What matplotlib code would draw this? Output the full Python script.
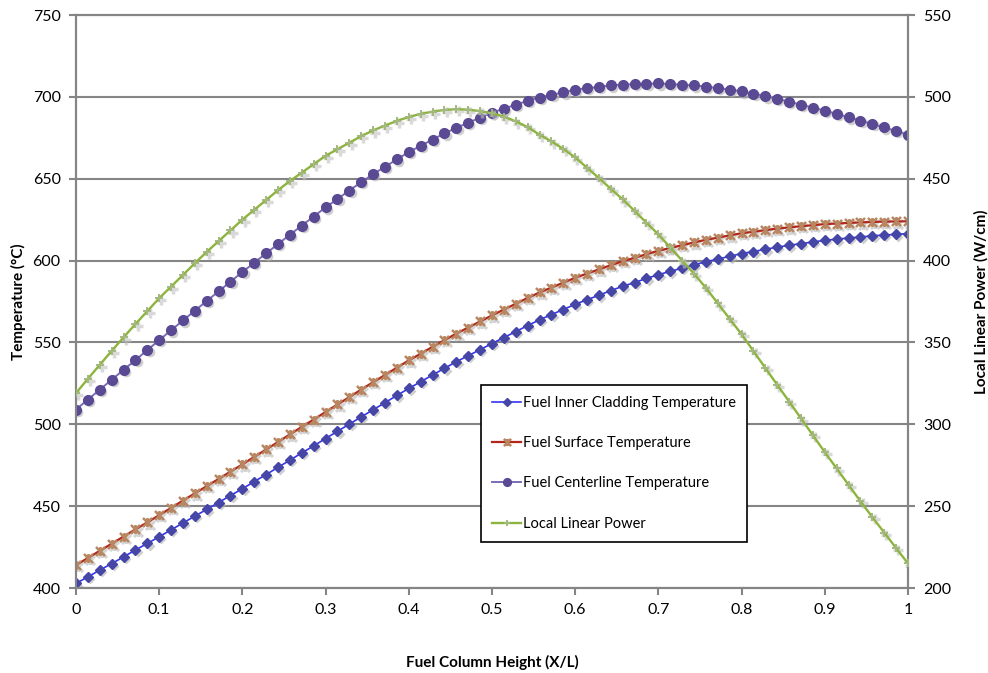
import matplotlib
matplotlib.use("Agg")
import matplotlib.pyplot as plt
import matplotlib.transforms as mtransforms
from matplotlib.path import Path

plt.rcParams['font.family'] = ['Lato', 'DejaVu Sans']

# x positions (X/L), 71 stations
height = [i / 70 for i in range(71)]

# Fuel inner cladding temperature (C)
clad_temp = [402.8, 406.8, 410.9, 414.9, 419.0, 423.2, 427.2, 431.3, 435.5, 439.7,
             443.9, 448.0, 452.2, 456.5, 460.6, 465.0, 469.3, 473.7, 478.1, 482.5,
             486.8, 491.3, 495.7, 500.1, 504.5, 508.9, 513.2, 517.6, 521.9, 526.0,
             530.1, 534.2, 538.2, 541.9, 545.6, 549.3, 553.0, 556.6, 560.3, 563.8,
             567.0, 570.1, 573.3, 576.1, 578.8, 581.7, 584.3, 586.6, 589.1, 591.4,
             593.4, 595.4, 597.4, 599.3, 600.9, 602.6, 604.3, 605.5, 606.9, 608.2,
             609.3, 610.4, 611.3, 612.4, 613.0, 613.8, 614.4, 615.1, 615.6, 616.0,
             616.5]

# Fuel surface temperature (C)
surf_temp = [414.0, 418.3, 422.7, 427.0, 431.4, 435.8, 440.1, 444.5, 448.9, 453.4,
             457.8, 462.2, 466.6, 471.1, 475.5, 480.1, 484.6, 489.2, 493.8, 498.4,
             502.9, 507.5, 512.1, 516.6, 521.2, 525.7, 530.1, 534.6, 539.0, 543.1,
             547.3, 551.4, 555.4, 559.1, 562.8, 566.5, 570.1, 573.6, 577.2, 580.5,
             583.5, 586.5, 589.5, 592.1, 594.6, 597.2, 599.6, 601.7, 603.9, 606.0,
             607.7, 609.4, 611.1, 612.7, 614.0, 615.4, 616.7, 617.6, 618.6, 619.5,
             620.3, 621.0, 621.6, 622.3, 622.6, 623.0, 623.3, 623.6, 623.8, 623.9,
             624.0]

# Fuel centerline temperature (C)
center_temp = [509.0, 515.1, 521.1, 527.2, 533.2, 539.2, 545.3, 551.4, 557.4, 563.4,
               569.4, 575.3, 581.2, 587.1, 593.0, 598.7, 604.4, 610.1, 615.8, 621.4,
               626.9, 632.5, 637.6, 642.8, 647.9, 652.8, 657.3, 661.8, 666.3, 670.1,
               673.9, 677.7, 681.1, 684.2, 687.3, 690.4, 692.8, 695.2, 697.6, 699.6,
               701.2, 702.8, 704.4, 705.3, 706.1, 707.0, 707.5, 707.8, 708.0, 708.2,
               707.8, 707.4, 707.0, 706.3, 705.3, 704.4, 703.4, 701.9, 700.3, 698.8,
               697.1, 695.2, 693.4, 691.6, 689.6, 687.5, 685.5, 683.4, 681.3, 679.1,
               677.0]

# Local linear power (W/cm)
power = [319.0, 327.8, 336.3, 344.8, 353.1, 361.2, 369.1, 377.0, 384.1, 391.2,
         398.4, 405.3, 411.9, 418.4, 425.0, 431.0, 437.0, 443.0, 448.6, 453.7,
         458.9, 464.0, 468.0, 472.0, 476.0, 479.5, 482.5, 485.3, 487.7, 489.6,
         491.0, 492.0, 492.5, 492.2, 491.3, 490.0, 488.0, 485.0, 481.5, 476.9,
         472.8, 468.2, 463.0, 456.7, 450.4, 443.8, 437.4, 430.3, 423.1, 416.0,
         408.0, 400.0, 392.0, 383.3, 373.9, 364.4, 355.0, 344.7, 334.4, 324.1,
         313.9, 303.6, 293.3, 283.0, 273.0, 263.0, 253.0, 243.3, 233.9, 224.4,
         215.0]

x_ticks = [0, 0.1, 0.2, 0.3, 0.4, 0.5, 0.6, 0.7, 0.8, 0.9, 1]
x_tick_labels = ['0', '0.1', '0.2', '0.3', '0.4', '0.5', '0.6', '0.7', '0.8', '0.9', '1']
temp_ticks = [400, 450, 500, 550, 600, 650, 700, 750]
power_ticks = [200, 250, 300, 350, 400, 450, 500, 550]

# Excel style "star" marker: an x with a vertical bar
star = Path([(-1, -1), (1, 1), (-1, 1), (1, -1), (0, -1), (0, 1)],
            [Path.MOVETO, Path.LINETO, Path.MOVETO, Path.LINETO, Path.MOVETO, Path.LINETO])

grey = '#858585'

fig = plt.figure(figsize=(9.88, 6.73), dpi=100)
ax = fig.add_axes([0.0769, 0.1263, 0.8421, 0.8514])
ax2 = ax.twinx()

shadow1 = mtransforms.offset_copy(ax.transData, fig=fig, x=1.6, y=-1.6, units='points')
shadow2 = mtransforms.offset_copy(ax2.transData, fig=fig, x=1.6, y=-1.6, units='points')

# drop shadows under the markers
ax.plot(height, clad_temp, 'D', ms=5.5, color='#b0b0b0', alpha=0.6, mec='none', transform=shadow1, zorder=2)
ax.plot(height, surf_temp, marker=star, ls='none', ms=6.5, mew=2.2, color='#b8b8b8', alpha=0.6, transform=shadow1, zorder=2)
ax.plot(height, center_temp, 'o', ms=7, color='#b0b0b0', alpha=0.6, mec='none', transform=shadow1, zorder=2)
ax2.plot(height, power, '+', ms=6.5, mew=2.5, color='#c0c0c0', alpha=0.6, transform=shadow2, zorder=2)

l1, = ax.plot(height, clad_temp, color='#3434f2', lw=1.2, marker='D', ms=5.5,
              mfc='#4646a6', mec='#4646a6', zorder=3, label='Fuel Inner Cladding Temperature')
l2, = ax.plot(height, surf_temp, color='#b3261c', lw=1.6, marker=star, ms=6.5, mew=1.8,
              mec='#b88660', zorder=3, label='Fuel Surface Temperature')
l3, = ax.plot(height, center_temp, color='#7c6bb8', lw=1.4, marker='o', ms=7,
              mfc='#5a4993', mec='#5a4993', zorder=3, label='Fuel Centerline Temperature')
l4, = ax2.plot(height, power, color='#8db43e', lw=1.7, marker='+', ms=6, mew=1.4,
               mec='#a3b87e', zorder=3, label='Local Linear Power')

ax.set_xlim(0, 1)
ax.set_ylim(400, 750)
ax2.set_ylim(200, 550)
ax.set_xticks(x_ticks)
ax.set_xticklabels(x_tick_labels)
ax.set_yticks(temp_ticks)
ax2.set_yticks(power_ticks)

ax.yaxis.grid(True, color=grey, lw=1.5)
ax.set_axisbelow(True)
for a in (ax, ax2):
    for s in a.spines.values():
        s.set_color(grey)
        s.set_linewidth(1.5)
    a.tick_params(direction='out', length=5, width=1.5, color=grey, labelsize=11.5, pad=6)

fig.text(0.498, 1 - 662 / 673, 'Fuel Column Height (X/L)', ha='center', va='center',
         fontsize=11, fontweight='bold')
fig.text(18 / 988, 0.552, 'Temperature (°C)', ha='center', va='center', rotation=90,
         fontsize=11, fontweight='bold')
fig.text(981 / 988, 0.552, 'Local Linear Power (W/cm)', ha='center', va='center', rotation=90,
         fontsize=11, fontweight='bold')

leg = ax2.legend(handles=[l1, l2, l3, l4], loc='upper left',
                 bbox_to_anchor=(481 / 988, 1 - 385 / 673), bbox_transform=fig.transFigure,
                 fontsize=10.5, frameon=True, fancybox=False, framealpha=1,
                 edgecolor='black', borderaxespad=0, borderpad=0.75, labelspacing=1.8,
                 handlelength=2.0, handletextpad=0.15, markerscale=0.8)
leg.get_frame().set_linewidth(1.2)

fig.savefig('out.png', dpi=100)
